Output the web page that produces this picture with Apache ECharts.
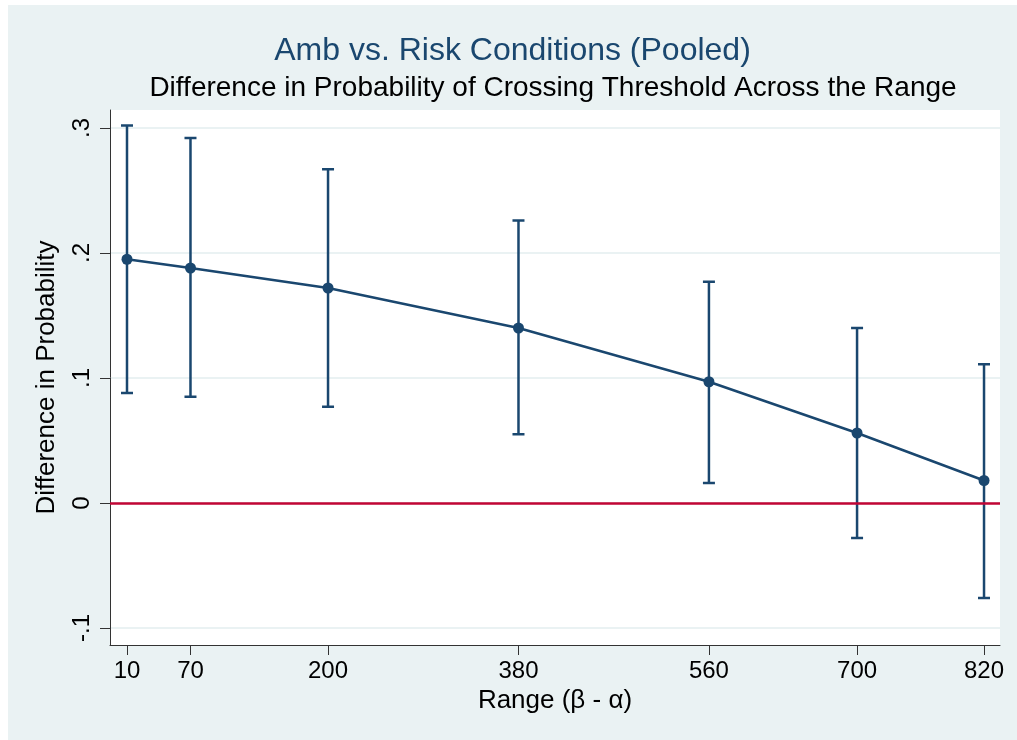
<!DOCTYPE html>
<html>
<head>
<meta charset="utf-8">
<script src="https://cdn.jsdelivr.net/npm/echarts@6/dist/echarts.min.js"></script>
<style>
  html, body { margin: 0; padding: 0; background: #ffffff; }
  #chart { position: absolute; left: 8px; top: 5px; width: 1009px; height: 735px; background: #EAF2F3; }
</style>
</head>
<body>
<div id="chart"></div>
<script>
// Range values (beta - alpha) at which the difference was evaluated
const rangeValues = [10, 70, 200, 380, 560, 700, 820];
// Point estimate of the difference in probability
const estimate = [0.195, 0.188, 0.172, 0.140, 0.097, 0.056, 0.018];
// 95% confidence interval bounds
const ciUpper = [0.302, 0.292, 0.267, 0.226, 0.177, 0.140, 0.111];
const ciLower = [0.088, 0.085, 0.077, 0.055, 0.016, -0.028, -0.076];
// Axis ticks
const xTicks = [10, 70, 200, 380, 560, 700, 820];
const yTicks = [-0.1, 0, 0.1, 0.2, 0.3];
const yTickLabels = ['-.1', '0', '.1', '.2', '.3'];

const navy = '#1A476F';
const cranberry = '#C10534';
const font = 'Arial, "Liberation Sans", sans-serif';

const chart = echarts.init(document.getElementById('chart'), null, { renderer: 'canvas' });

const ciData = rangeValues.map((x, i) => [x, ciLower[i], ciUpper[i]]);
const lineData = rangeValues.map((x, i) => [x, estimate[i]]);

chart.setOption({
  animation: false,
  title: {
    text: 'Amb vs. Risk Conditions (Pooled)',
    left: 'center',
    top: 25,
    textStyle: { color: navy, fontSize: 32, fontWeight: 'normal', fontFamily: font }
  },
  graphic: [
    {
      // Subtitle
      type: 'text',
      x: 545,
      y: 83,
      style: {
        text: 'Difference in Probability of Crossing Threshold Across the Range',
        fill: '#000',
        font: '28px ' + font,
        textAlign: 'center',
        textVerticalAlign: 'middle'
      }
    }
  ],
  grid: {
    left: 102, top: 105, width: 890, height: 535,
    show: true, backgroundColor: '#ffffff', borderWidth: 0
  },
  xAxis: {
    type: 'value',
    min: -6.07, max: 835.1,
    name: 'Range (\u03B2 - \u03B1)',
    nameLocation: 'middle',
    nameGap: 41,
    nameTextStyle: { color: '#000', fontSize: 26, fontFamily: font },
    axisLine: { show: true, onZero: false, lineStyle: { color: '#333', width: 1 } },
    axisTick: { show: true, length: 10, customValues: xTicks, lineStyle: { color: '#333' } },
    axisLabel: {
      customValues: xTicks, margin: 14, color: '#000', fontSize: 24, fontFamily: font,
      formatter: v => String(v)
    },
    splitLine: { show: false }
  },
  yAxis: {
    type: 'value',
    min: -0.1136, max: 0.3144,
    name: 'Difference in Probability',
    nameLocation: 'middle',
    nameGap: 50,
    nameRotate: 90,
    nameTextStyle: { color: '#000', fontSize: 26, fontFamily: font },
    axisLine: { show: true, onZero: false, lineStyle: { color: '#333', width: 1 } },
    axisTick: { show: true, length: 10, customValues: yTicks, lineStyle: { color: '#333' } },
    axisLabel: {
      customValues: yTicks, rotate: 90, margin: 16, color: '#000', fontSize: 24, fontFamily: font,
      formatter: v => {
        const i = yTicks.findIndex(t => Math.abs(t - v) < 1e-9);
        return i >= 0 ? yTickLabels[i] : '';
      }
    },
    splitLine: { show: true, lineStyle: { color: '#EAF2F3', width: 2 } }
  },
  series: [
    {
      // Confidence interval bars with caps
      type: 'custom',
      data: ciData,
      z: 3,
      renderItem: (params, api) => {
        const x = api.value(0);
        const lo = api.coord([x, api.value(1)]);
        const hi = api.coord([x, api.value(2)]);
        const cap = 6;
        const style = { stroke: navy, lineWidth: 2.5 };
        return {
          type: 'group',
          children: [
            { type: 'line', shape: { x1: lo[0], y1: lo[1], x2: hi[0], y2: hi[1] }, style },
            { type: 'line', shape: { x1: hi[0] - cap, y1: hi[1], x2: hi[0] + cap, y2: hi[1] }, style },
            { type: 'line', shape: { x1: lo[0] - cap, y1: lo[1], x2: lo[0] + cap, y2: lo[1] }, style }
          ]
        };
      }
    },
    {
      type: 'line',
      data: lineData,
      z: 4,
      symbol: 'circle',
      symbolSize: 11,
      lineStyle: { color: navy, width: 2.5 },
      itemStyle: { color: navy },
      markLine: {
        silent: true,
        symbol: ['none', 'none'],
        label: { show: false },
        lineStyle: { color: cranberry, width: 2.5, type: 'solid' },
        data: [{ yAxis: 0 }]
      }
    }
  ]
});
</script>
</body>
</html>
